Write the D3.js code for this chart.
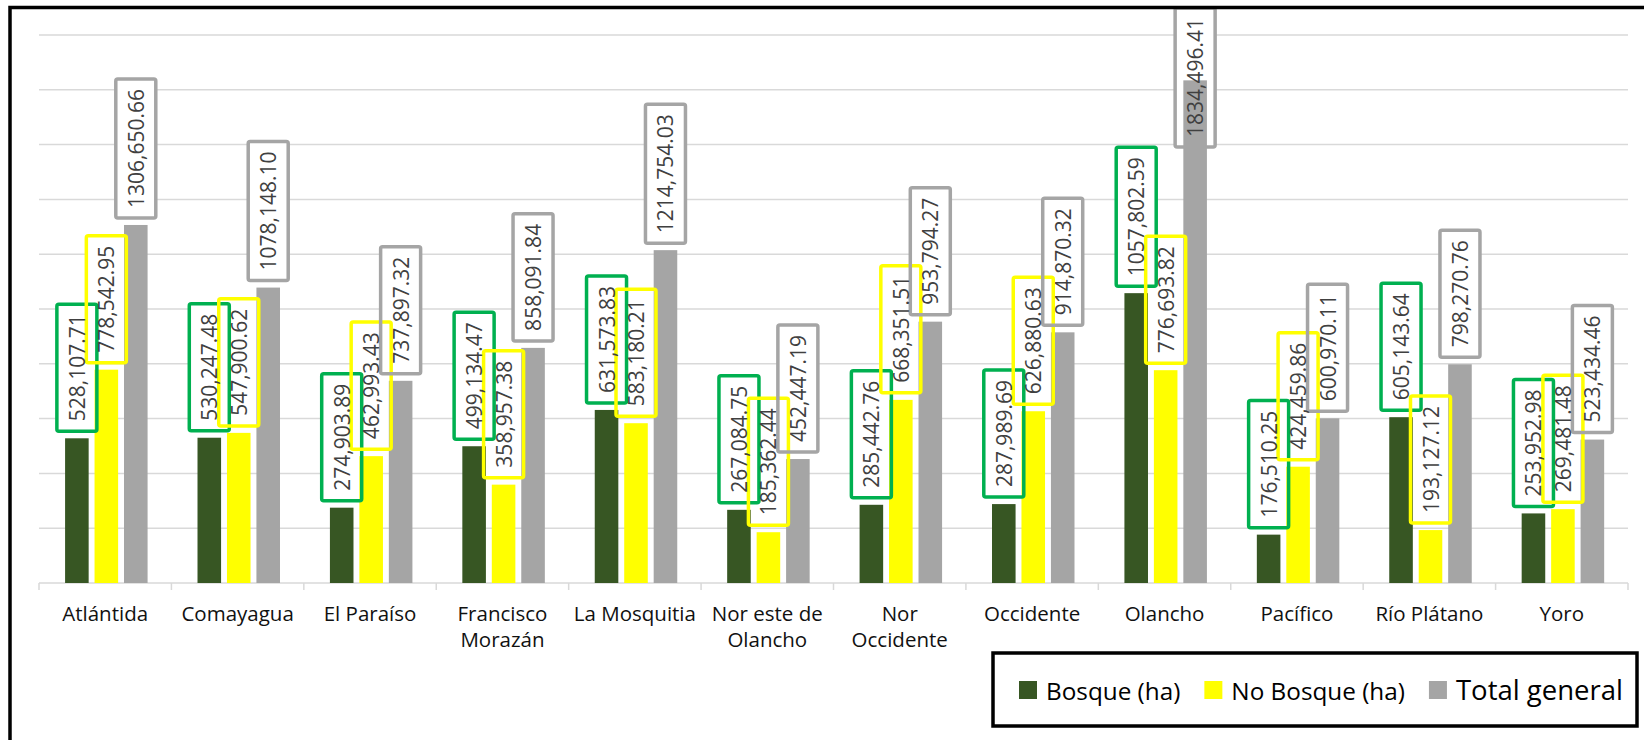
<!DOCTYPE html>
<html>
<head>
<meta charset="utf-8">
<script src="https://cdn.jsdelivr.net/npm/d3@7"></script>
<style>
  body { margin: 0; background: #fff; }
  svg { display: block; font-family: "Open Sans", sans-serif; }
</style>
</head>
<body>
<svg id="chart" width="1644" height="740"></svg>
<script>
const categories = ['Atlántida', 'Comayagua', 'El Paraíso', 'Francisco Morazán', 'La Mosquitia',
  'Nor este de Olancho', 'Nor Occidente', 'Occidente', 'Olancho', 'Pacífico', 'Río Plátano', 'Yoro'];
const bosque = [528107.71, 530247.48, 274903.89, 499134.47, 631573.83, 267084.75,
  285442.76, 287989.69, 1057802.59, 176510.25, 605143.64, 253952.98];
const noBosque = [778542.95, 547900.62, 462993.43, 358957.38, 583180.21, 185362.44,
  668351.51, 626880.63, 776693.82, 424459.86, 193127.12, 269481.48];
const total = [1306650.66, 1078148.10, 737897.32, 858091.84, 1214754.03, 452447.19,
  953794.27, 914870.32, 1834496.41, 600970.11, 798270.76, 523434.46];
const seriesNames = ['Bosque (ha)', 'No Bosque (ha)', 'Total general'];
const yTicks = d3.range(0, 2000001, 200000);

const barColors = ['#375623', '#FFFF00', '#A5A5A5'];
const boxColors = ['#00B050', '#FFFF00', '#A5A5A5'];

const margin = {top: 35, left: 39, right: 16, bottom: 157};
const width = 1644, height = 740;

const svg = d3.select('#chart');

const x0 = d3.scaleBand()
    .domain(categories)
    .range([margin.left, width - margin.right]);

const x1 = d3.scaleBand()
    .domain(d3.range(3))
    .range([x0.bandwidth() * 0.197, x0.bandwidth() * 0.82])
    .paddingInner(0.2);

const y = d3.scaleLinear()
    .domain([0, 2000000])
    .range([height - margin.bottom, margin.top]);

// gridlines
svg.append('g')
    .selectAll('line')
    .data(yTicks.slice(1))
    .join('line')
    .attr('x1', margin.left)
    .attr('x2', width - margin.right)
    .attr('y1', d => y(d))
    .attr('y2', d => y(d))
    .attr('stroke', '#D9D9D9')
    .attr('stroke-width', 1.5);

// category axis
const xAxis = svg.append('g')
    .attr('transform', `translate(0,${y(0)})`);
xAxis.append('line')
    .attr('x1', margin.left).attr('x2', width - margin.right)
    .attr('stroke', '#D9D9D9').attr('stroke-width', 1.5);
xAxis.selectAll('.tick')
    .data(categories.map(c => x0(c)).concat([width - margin.right]))
    .join('line')
    .attr('class', 'tick')
    .attr('x1', d => d).attr('x2', d => d)
    .attr('y1', 0).attr('y2', 7)
    .attr('stroke', '#D9D9D9').attr('stroke-width', 1.5);

const catLabels = xAxis.selectAll('.cat')
    .data(categories)
    .join('text')
    .attr('class', 'cat')
    .attr('x', d => x0(d) + x0.bandwidth() / 2)
    .attr('y', 38)
    .attr('text-anchor', 'middle')
    .attr('font-size', '20.5px')
    .attr('fill', '#111');

// simple word wrap to the band width
catLabels.each(function(d) {
  const t = d3.select(this);
  const words = d.split(' ');
  let line = [];
  let tspan = t.append('tspan').attr('x', t.attr('x')).attr('dy', 0);
  words.forEach(w => {
    line.push(w);
    tspan.text(line.join(' '));
    if (tspan.node().getComputedTextLength() > 130 && line.length > 1) {
      line.pop();
      tspan.text(line.join(' '));
      line = [w];
      tspan = t.append('tspan').attr('x', t.attr('x')).attr('dy', 26).text(w);
    }
  });
});

const seriesValues = [bosque, noBosque, total];
const barData = [];
categories.forEach((c, i) => {
  seriesValues.forEach((vals, s) => barData.push({cat: c, s: s, v: vals[i]}));
});

// data label geometry
function fmt(v) {
  const [i, dec] = v.toFixed(2).split('.');
  const intPart = i.length > 3 ? i.slice(0, -3) + ',' + i.slice(-3) : i;
  return intPart + '.' + dec;
}

const boxW = 40;
const pad = 10;

const measure = svg.append('text').attr('font-size', '21px');
barData.forEach(d => {
  measure.text(fmt(d.v));
  d.len = measure.node().getComputedTextLength();
  d.boxH = d.len + pad * 2;
  d.cx = x0(d.cat) + x1(d.s) + x1.bandwidth() / 2;
  d.boxY = Math.max(y(d.v) - 7 - d.boxH, 8);
});
measure.remove();

// label fills sit under the bars
svg.append('g')
    .selectAll('rect')
    .data(barData)
    .join('rect')
    .attr('x', d => d.cx - boxW / 2)
    .attr('y', d => d.boxY)
    .attr('width', boxW)
    .attr('height', d => d.boxH)
    .attr('fill', '#fff');

// bars
svg.append('g')
    .selectAll('rect')
    .data(barData)
    .join('rect')
    .attr('x', d => x0(d.cat) + x1(d.s))
    .attr('width', x1.bandwidth())
    .attr('y', d => y(d.v))
    .attr('height', d => y(0) - y(d.v))
    .attr('fill', d => barColors[d.s]);

svg.append('g')
    .selectAll('rect')
    .data(barData)
    .join('rect')
    .attr('x', d => d.cx - boxW / 2)
    .attr('y', d => d.boxY)
    .attr('width', boxW)
    .attr('height', d => d.boxH)
    .attr('rx', 2)
    .attr('fill', 'none')
    .attr('stroke', d => boxColors[d.s])
    .attr('stroke-width', 3.5);

svg.append('g')
    .selectAll('text')
    .data(barData)
    .join('text')
    .attr('transform', d => `translate(${d.cx},${d.boxY + d.boxH / 2}) rotate(-90)`)
    .attr('text-anchor', 'middle')
    .attr('dominant-baseline', 'central')
    .attr('font-size', '21px')
    .attr('fill', '#404040')
    .text(d => fmt(d.v));

// legend
const legend = svg.append('g');
legend.append('rect')
    .attr('x', 993).attr('y', 653)
    .attr('width', 644).attr('height', 73)
    .attr('fill', '#fff')
    .attr('stroke', '#000')
    .attr('stroke-width', 3.5);

const legendFont = ['24.3px', '24.3px', '27.5px'];
let lx = 1019;
seriesNames.forEach((name, i) => {
  legend.append('rect')
      .attr('x', lx).attr('y', 681)
      .attr('width', 18).attr('height', 18)
      .attr('fill', barColors[i]);
  const t = legend.append('text')
      .attr('x', lx + 27).attr('y', 699.5)
      .attr('font-size', legendFont[i])
      .attr('fill', '#000')
      .text(name);
  lx += 27 + t.node().getComputedTextLength() + 24;
});

// outer border (top and left visible)
svg.append('path')
    .attr('d', `M10,${height} V7.5 H${width}`)
    .attr('fill', 'none')
    .attr('stroke', '#000')
    .attr('stroke-width', 3.5);
</script>
</body>
</html>
